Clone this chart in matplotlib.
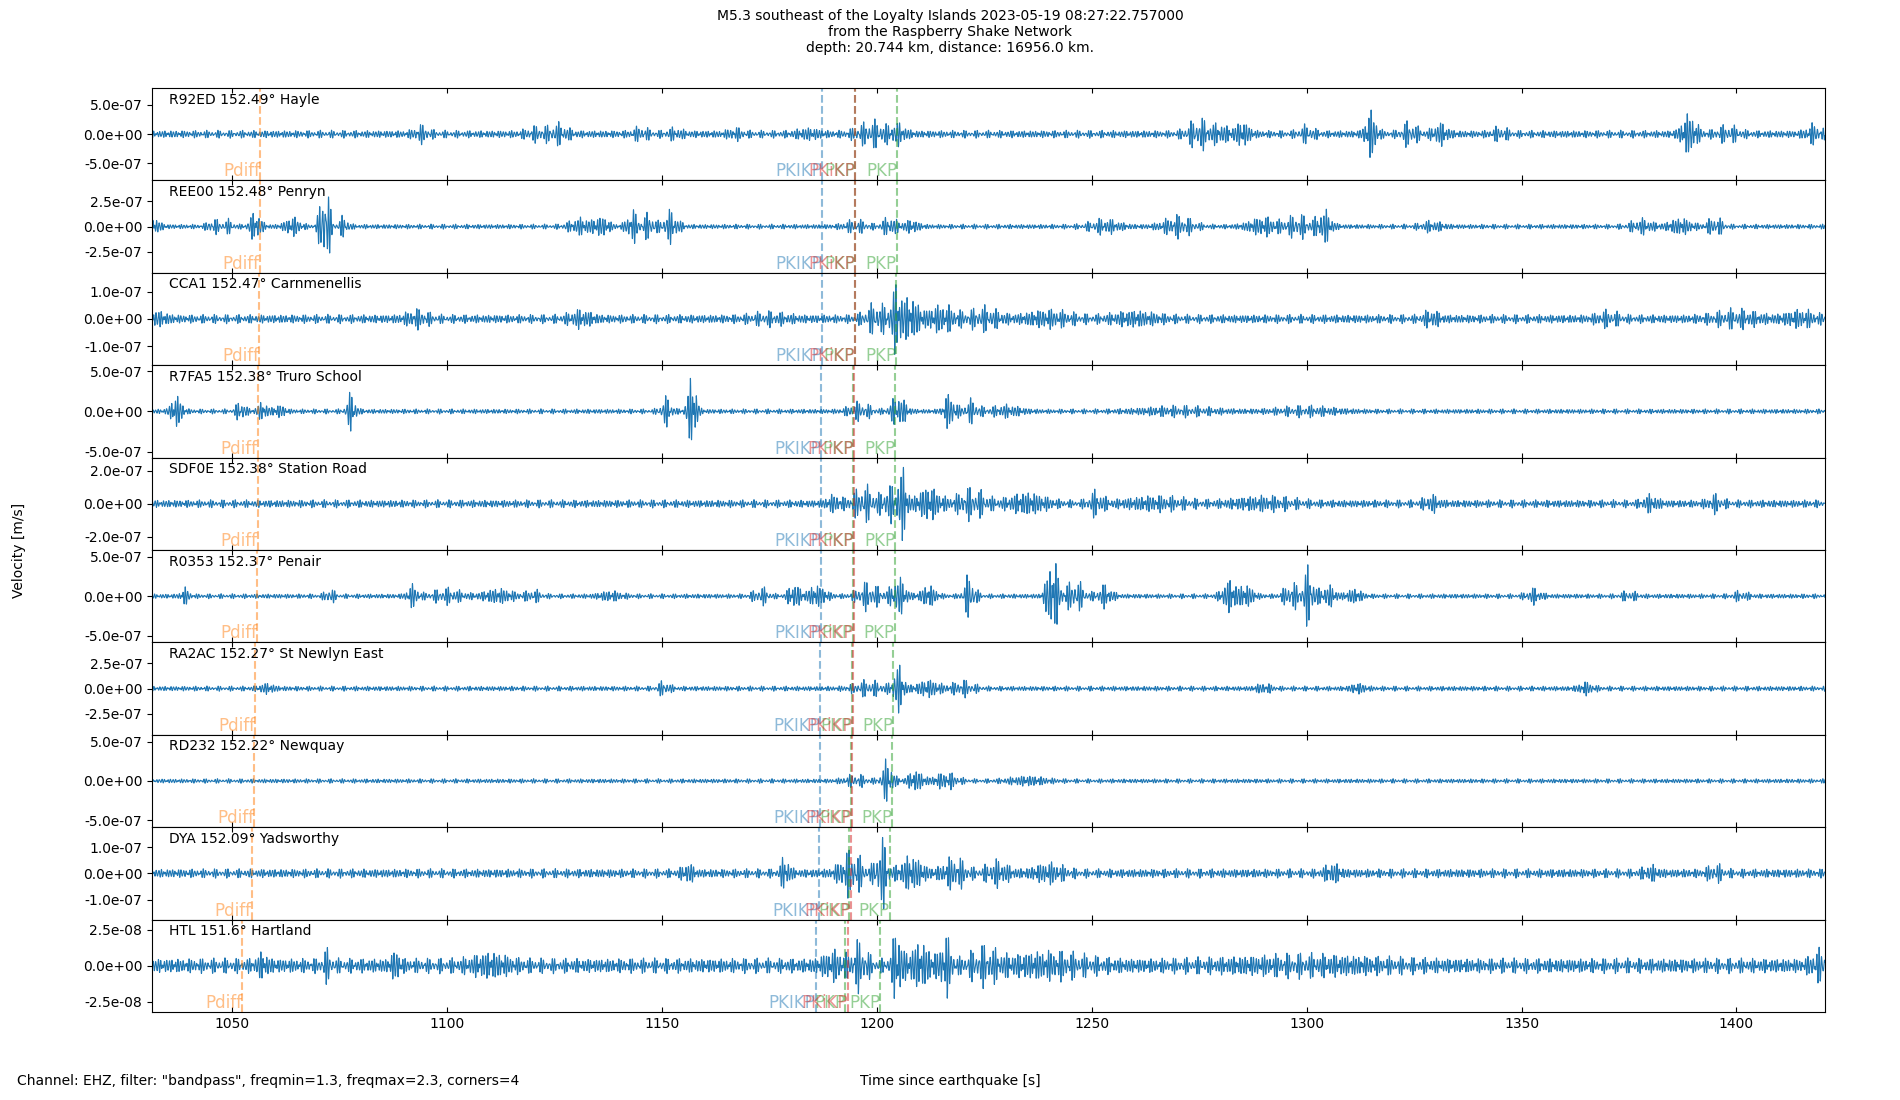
import numpy as np
import matplotlib.pyplot as plt
from matplotlib.ticker import FormatStrFormatter

stations = ["R92ED", "REE00", "CCA1", "R7FA5", "SDF0E", "R0353", "RA2AC", "RD232", "DYA", "HTL"]
distances = ["152.49", "152.48", "152.47", "152.38", "152.38", "152.37", "152.27", "152.22", "152.09", "151.6"]
places = ["Hayle", "Penryn", "Carnmenellis", "Truro School", "Station Road", "Penair",
          "St Newlyn East", "Newquay", "Yadsworthy", "Hartland"]

# phase arrivals [s after origin]
pdiff = [1056.5, 1056.4, 1056.3, 1055.9, 1055.9, 1055.8, 1055.3, 1055.1, 1054.5, 1052.3]
pkikp = [1187.2, 1187.2, 1187.2, 1187.0, 1187.0, 1187.0, 1186.8, 1186.7, 1186.5, 1185.7]
pkikp_inner = [1194.8, 1194.8, 1194.8, 1194.6, 1194.6, 1194.6, 1194.4, 1194.3, 1194.0, 1193.3]
pkp_a = [1194.9, 1194.9, 1194.8, 1194.5, 1194.5, 1194.4, 1194.1, 1193.9, 1193.5, 1192.6]
pkp_b = [1204.7, 1204.6, 1204.5, 1204.2, 1204.2, 1204.1, 1203.8, 1203.6, 1203.0, 1200.8]

# y range and ticks of each trace [m/s]
ylims = [7.9e-7, 4.6e-7, 1.69e-7, 5.76e-7, 2.8e-7, 5.85e-7, 4.6e-7, 5.9e-7, 1.77e-7, 3.2e-8]
yticks = [5e-7, 2.5e-7, 1e-7, 5e-7, 2e-7, 5e-7, 2.5e-7, 5e-7, 1e-7, 2.5e-8]

# background noise level and bursts (time, peak amplitude, width)
noise = [6e-8, 2.2e-8, 1.5e-8, 2.8e-8, 2.2e-8, 2.8e-8, 2.3e-8, 2.6e-8, 1.6e-8, 4.8e-9]
bursts = [
    [(1094, 1.0e-7, 2), (1121, 8e-8, 3), (1126, 1.25e-7, 2.5), (1145, 8e-8, 2), (1153, 6e-8, 2),
     (1167, 6e-8, 2), (1184, 6e-8, 3), (1199, 1.7e-7, 4), (1205, 1.25e-7, 2), (1275, 2.1e-7, 3),
     (1280, 1.2e-7, 2), (1285, 1.7e-7, 2), (1300, 1.0e-7, 2), (1315, 3.5e-7, 1.5), (1324, 1.7e-7, 2),
     (1331, 1.5e-7, 2), (1345, 8e-8, 2), (1389, 3.1e-7, 2), (1398, 1.0e-7, 3), (1418, 1.25e-7, 2)],
    [(1031, 1.0e-7, 2), (1045.5, 6e-8, 1.5), (1049, 5e-8, 1.5), (1055.4, 1.3e-7, 1.5), (1064, 8e-8, 2),
     (1071.5, 4.5e-7, 1.3), (1076, 9e-8, 1.2), (1131, 7e-8, 3), (1136, 8e-8, 2), (1143, 1.5e-7, 1.5),
     (1147, 1.2e-7, 1.5), (1152, 1.4e-7, 2), (1195, 5e-8, 3), (1203, 8e-8, 2), (1208, 5e-8, 2),
     (1253, 6e-8, 4), (1270, 9e-8, 4), (1290, 8e-8, 4), (1298, 1.0e-7, 3), (1304, 1.5e-7, 2),
     (1329, 4e-8, 3), (1378, 6e-8, 3), (1387, 7e-8, 3), (1395, 8e-8, 2)],
    [(1032, 1.8e-8, 3), (1093, 2.2e-8, 3), (1131, 2.2e-8, 3), (1175, 1.3e-8, 5), (1200, 4.5e-8, 3),
     (1204.7, 1.1e-7, 1.5), (1208, 6.7e-8, 2), (1215, 4e-8, 4), (1225, 3.1e-8, 4), (1240, 2.2e-8, 6),
     (1260, 1.8e-8, 6), (1329, 2.2e-8, 2), (1370, 1.8e-8, 3), (1400, 2.2e-8, 6), (1415, 2.2e-8, 4)],
    [(1037, 1.8e-7, 1.5), (1052, 1.2e-7, 1.2), (1057, 9e-8, 1.5), (1061, 6e-8, 1.5), (1077.7, 2.1e-7, 1.2),
     (1151, 1.5e-7, 1.5), (1157, 4.3e-7, 1.2), (1196, 9e-8, 3), (1205, 1.8e-7, 2), (1217, 2.1e-7, 1.5),
     (1222, 1.2e-7, 2), (1230, 6e-8, 4), (1270, 4.5e-8, 10), (1300, 4.5e-8, 8)],
    [(1190, 3.7e-8, 2), (1197, 8.8e-8, 3), (1203, 8.8e-8, 2), (1206, 1.9e-7, 1.2), (1212, 8.8e-8, 3),
     (1222, 7.4e-8, 4), (1235, 5.2e-8, 5), (1251, 5.9e-8, 2), (1265, 3e-8, 8), (1290, 3e-8, 8),
     (1329, 3.7e-8, 2), (1380, 3.7e-8, 2), (1395, 3.7e-8, 2)],
    [(1039, 9e-8, 1), (1072.6, 9e-8, 1.2), (1092, 1.2e-7, 1.5), (1100, 7.7e-8, 4), (1112, 7.7e-8, 4),
     (1120, 6e-8, 2), (1138, 4.6e-8, 3), (1173, 9e-8, 2), (1180.7, 1.5e-7, 1.5), (1186, 1.2e-7, 2.5),
     (1198, 1.5e-7, 3), (1205, 2.2e-7, 2), (1212, 1.2e-7, 2), (1221.6, 2.5e-7, 1.5), (1240.8, 5e-7, 1.5),
     (1246, 1.8e-7, 2.5), (1253, 1.2e-7, 2), (1282, 1.8e-7, 2), (1286, 1.2e-7, 2), (1296.4, 1.5e-7, 2),
     (1300.5, 3.4e-7, 1.5), (1305, 1.2e-7, 2), (1311, 7.7e-8, 2), (1352.8, 7.7e-8, 2), (1375, 4.6e-8, 2),
     (1401, 4.6e-8, 2)],
    [(1058, 3.6e-8, 2), (1150.5, 6e-8, 1.5), (1198, 6e-8, 4), (1205, 2.1e-7, 1.5), (1212, 7.3e-8, 3),
     (1220, 6e-8, 3), (1290, 3.6e-8, 2), (1312, 3.6e-8, 2), (1365, 4.8e-8, 2)],
    [(1195, 6.2e-8, 3), (1202.5, 2.5e-7, 1.5), (1209, 1.2e-7, 2), (1216, 9.3e-8, 3), (1235, 4.6e-8, 5)],
    [(1156, 2.8e-8, 1.5), (1178.7, 5.6e-8, 1.2), (1194, 7.4e-8, 3), (1201, 1.2e-7, 1.5), (1208, 5.6e-8, 3),
     (1218, 5.1e-8, 3), (1228, 3.7e-8, 3), (1240, 2.8e-8, 4), (1306, 2.8e-8, 2), (1380, 1.9e-8, 2),
     (1395, 2.3e-8, 2)],
    [(1057, 5e-9, 1.5), (1072, 6.7e-9, 1.2), (1088, 6.7e-9, 1.2), (1110, 5e-9, 5), (1190, 6.7e-9, 3),
     (1196, 1.26e-8, 2), (1204.7, 2.3e-8, 1.2), (1210, 1.2e-8, 3), (1216, 1.7e-8, 1.5), (1225, 8.4e-9, 4),
     (1240, 5.9e-9, 10), (1300, 3.4e-9, 20), (1419, 6.7e-9, 2)],
]

t0, t1 = 1031.3, 1420.6
t = np.arange(t0, t1, 0.01)

fig, axes = plt.subplots(len(stations), 1, sharex=True, figsize=(19, 11), dpi=100)
fig.subplots_adjust(left=0.08, right=0.9605, top=0.92, bottom=0.08, hspace=0)

for i, ax in enumerate(axes):
    # amplitude envelope from the read bursts, filled with a 1.3-2.3 Hz wiggle
    env = np.full_like(t, noise[i])
    for tc, amp, w in bursts[i]:
        env += amp * np.exp(-((t - tc) / w) ** 2)
    wiggle = (np.sin(2 * np.pi * 1.55 * t + i) + 0.7 * np.sin(2 * np.pi * 1.93 * t + 2 * i + 1.3)
              + 0.5 * np.sin(2 * np.pi * 2.27 * t + 3 * i + 2.1)) / 1.9
    ax.plot(t, env * wiggle, color="C0", lw=0.8)

    # PKiKP last so its red line sits on top of the nearby PKP one
    phases = [("Pdiff", pdiff[i], "C1"), ("PKIKP", pkikp[i], "C0"), ("PKP", pkp_a[i], "C2"),
              ("PKP", pkp_b[i], "C2"), ("PKiKP", pkikp_inner[i], "C3")]
    for name, ta, col in phases:
        ax.axvline(ta, color=col, ls="--", lw=1.5, alpha=0.5)
        ax.text(ta, 0.0, name, color=col, alpha=0.5, fontsize=12, ha="right", va="bottom",
                transform=ax.get_xaxis_transform())

    ax.text(0.01, 0.95, f"{stations[i]} {distances[i]}° {places[i]}", transform=ax.transAxes,
            va="top", fontsize=10)
    ax.set_ylim(-ylims[i], ylims[i])
    ax.set_yticks([-yticks[i], 0, yticks[i]])
    ax.yaxis.set_major_formatter(FormatStrFormatter("%.1e"))
    ax.tick_params(axis="x", direction="in", top=True, bottom=True)

axes[-1].set_xlim(t0, t1)

fig.text(0.5, 0.992, "M5.3 southeast of the Loyalty Islands 2023-05-19 08:27:22.757000\n"
         "from the Raspberry Shake Network\ndepth: 20.744 km, distance: 16956.0 km.",
         ha="center", va="top", fontsize=10)
fig.text(0.01, 0.5, "Velocity [m/s]", rotation=90, va="center", ha="center", fontsize=10)
fig.text(0.5, 0.017, "Time since earthquake [s]", ha="center", va="center", fontsize=10)
fig.text(0.0092, 0.017, 'Channel: EHZ, filter: "bandpass", freqmin=1.3, freqmax=2.3, corners=4',
         ha="left", va="center", fontsize=10)

plt.savefig("out.png")
